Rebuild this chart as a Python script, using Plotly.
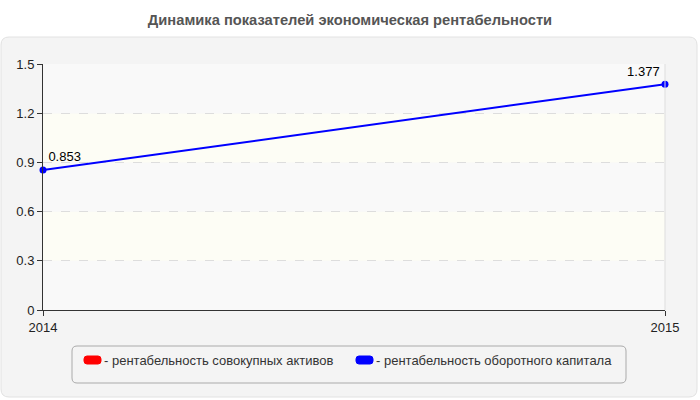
import plotly.graph_objects as go

years = [2014, 2015]
assets_profit = [None, None]  # рентабельность совокупных активов (not visible in chart)
working_capital_profit = [0.853, 1.377]
y_ticks = [0, 0.3, 0.6, 0.9, 1.2, 1.5]

SERIES = [
    ("- рентабельность совокупных активов", assets_profit, "#ff0000"),
    ("- рентабельность оборотного капитала", working_capital_profit, "#0000ff"),
]

W, H = 700, 400
L, R, T, B = 43, 665, 64, 310  # plot area in pixels


def px(x):
    return (x - L) / (R - L)


def py(y):
    return (B - y) / (B - T)


def rounded_rect(x0, y0, x1, y1, r):
    # pixel box -> paper path with rounded corners
    pts = [
        f"M {px(x0 + r)},{py(y0)}",
        f"L {px(x1 - r)},{py(y0)}",
        f"Q {px(x1)},{py(y0)} {px(x1)},{py(y0 + r)}",
        f"L {px(x1)},{py(y1 - r)}",
        f"Q {px(x1)},{py(y1)} {px(x1 - r)},{py(y1)}",
        f"L {px(x0 + r)},{py(y1)}",
        f"Q {px(x0)},{py(y1)} {px(x0)},{py(y1 - r)}",
        f"L {px(x0)},{py(y0 + r)}",
        f"Q {px(x0)},{py(y0)} {px(x0 + r)},{py(y0)}",
        "Z",
    ]
    return " ".join(pts)


fig = go.Figure()

for name, vals, color in SERIES:
    labels = [f"{v:g}" if v is not None else "" for v in vals]
    fig.add_trace(
        go.Scatter(
            x=years,
            y=vals,
            name=name,
            mode="lines+markers+text",
            line=dict(color=color, width=2),
            marker=dict(color=color, size=7),
            text=labels,
            textposition=["top right", "top left"],
            textfont=dict(size=13, color="#000000"),
            cliponaxis=False,
            showlegend=False,
        )
    )

shapes = []
# grey outer panel
shapes.append(dict(type="path", xref="paper", yref="paper", layer="below",
                   path=rounded_rect(1, 37, 697, 397, 8),
                   fillcolor="#f4f4f4", line=dict(color="#e2e2e2", width=1)))
# alternating background bands (hatched / cream)
for i in range(len(y_ticks) - 1):
    shapes.append(dict(type="rect", xref="paper", yref="y", layer="below",
                       x0=0, x1=1, y0=y_ticks[i], y1=y_ticks[i + 1],
                       fillcolor="#f9f9f9" if i % 2 == 0 else "#fdfdf5",
                       line=dict(width=0)))
# right border of plot area
shapes.append(dict(type="line", xref="paper", yref="paper", x0=1, x1=1, y0=0, y1=1,
                   line=dict(color="#dddddd", width=1)))
# legend box
shapes.append(dict(type="path", xref="paper", yref="paper",
                   path=rounded_rect(72, 346, 626, 383, 5),
                   fillcolor="#f4f4f4", line=dict(color="#aaaaaa", width=1)))

annotations = []
legend_x = [84, 356]
for (name, vals, color), lx in zip(SERIES, legend_x):
    shapes.append(dict(type="path", xref="paper", yref="paper",
                       path=rounded_rect(lx, 356, lx + 17, 364, 3),
                       fillcolor=color, line=dict(color=color, width=1)))
    annotations.append(dict(x=px(lx + 18), y=py(360), xref="paper", yref="paper",
                            text=name, showarrow=False, xanchor="left", yanchor="middle",
                            font=dict(size=13, color="#333333")))

fig.update_layout(
    width=W,
    height=H,
    margin=dict(l=L, r=W - R, t=T, b=H - B),
    paper_bgcolor="#ffffff",
    plot_bgcolor="#fbfbf8",
    font=dict(family="Liberation Sans, Arial, sans-serif", size=13, color="#222222"),
    title=dict(text="<b>Динамика показателей экономическая рентабельности</b>",
               x=0.5, xanchor="center", y=1 - 20 / H, yanchor="middle",
               font=dict(size=14.7, color="#555555")),
    shapes=shapes,
    annotations=annotations,
    showlegend=False,
    xaxis=dict(range=[years[0], years[-1]], tickvals=years, ticktext=[str(y) for y in years],
               showgrid=False, zeroline=False, showline=True, linecolor="#333333",
               ticks="outside", ticklen=5, tickcolor="#333333"),
    yaxis=dict(range=[0, 1.5], tickvals=y_ticks, ticktext=[f"{v:g}" for v in y_ticks],
               showgrid=True, gridcolor="#dddddd", griddash="dash",
               zeroline=False, showline=True, linecolor="#333333",
               ticks="outside", ticklen=5, tickcolor="#333333"),
)

# page body has a default 8px margin; drop it so the figure sits at 0,0
fig.write_html("out.html", config={"displayModeBar": False},
               post_script="document.body.style.margin='0';")
